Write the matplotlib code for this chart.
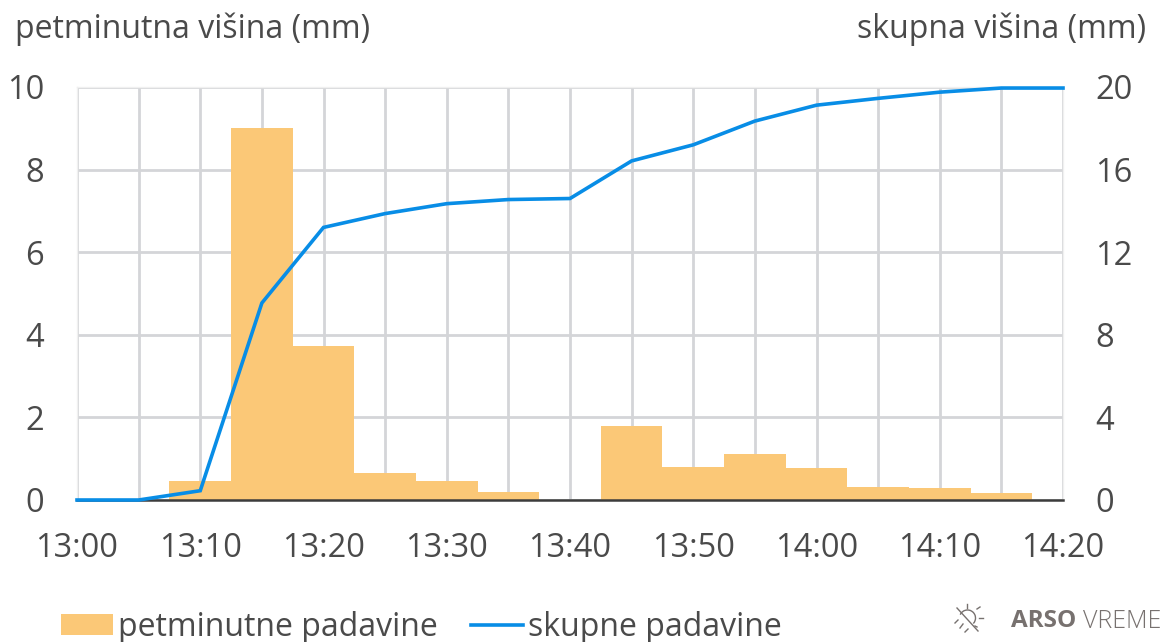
import matplotlib
matplotlib.use("Agg")
import matplotlib.pyplot as plt
from matplotlib.lines import Line2D
from matplotlib.patches import Arc

plt.rcParams['font.family'] = ['Open Sans', 'DejaVu Sans']

minutes = [0, 5, 10, 15, 20, 25, 30, 35, 40, 45, 50, 55, 60, 65, 70, 75, 80]
five_min = [0, 0, 0.47, 9.0, 3.72, 0.65, 0.47, 0.2, 0, 1.8, 0.8, 1.12, 0.78, 0.32, 0.28, 0.18, 0]
total = [0, 0, 0.45, 9.54, 13.2, 13.87, 14.35, 14.55, 14.6, 16.42, 17.2, 18.35, 19.12, 19.45, 19.75, 19.95, 19.95]
xticks = [0, 10, 20, 30, 40, 50, 60, 70, 80]
xlabels = ['13:00', '13:10', '13:20', '13:30', '13:40', '13:50', '14:00', '14:10', '14:20']
left_ticks = [0, 2, 4, 6, 8, 10]
right_ticks = [0, 4, 8, 12, 16, 20]

W, H = 1171, 642
TXT = '#4a4a4a'
GRID = '#d4d5d8'
fig = plt.figure(figsize=(W / 100, H / 100), dpi=100, facecolor='white')
ax = fig.add_axes([77 / W, 1 - 500 / H, (1063 - 77) / W, (500 - 87) / H])
ax.set_xlim(0, 80)
ax.set_ylim(0, 10)
ax.set_xticks(minutes)
ax.set_yticks(left_ticks)
ax.set_xticklabels([xlabels[xticks.index(m)] if m in xticks else '' for m in minutes])
ax.tick_params(axis='both', length=0, labelsize=23.5, labelcolor=TXT)
ax.tick_params(axis='x', pad=23)
ax.tick_params(axis='y', pad=23.8)
ax.grid(True, color=GRID, lw=2.0, zorder=1)
ax.set_axisbelow(True)
for s in ['top', 'right', 'left']:
    ax.spines[s].set_color('#f0f0f0')
    ax.spines[s].set_linewidth(1)
ax.spines['bottom'].set_color('#3c3c3c')
ax.spines['bottom'].set_linewidth(1.8)
bars = ax.bar(minutes, five_min, width=5, color='#fbc877', zorder=2, label='petminutne padavine')

ax2 = ax.twinx()
ax2.set_ylim(0, 20)
ax2.set_yticks(right_ticks)
ax2.tick_params(axis='y', length=0, labelsize=23.5, labelcolor=TXT, pad=23.3)
for lab in ax2.get_yticklabels():
    lab.set_ha('left')
for s in ax2.spines.values():
    s.set_visible(False)
line, = ax2.plot(minutes, total, color='#088de6', lw=2.6, zorder=5, clip_on=False,
                 solid_joinstyle='miter', label='skupne padavine')

fig.text(15 / W, 1 - 29 / H, 'petminutna višina (mm)', fontsize=23, color=TXT, ha='left', va='center')
fig.text(1146 / W, 1 - 29 / H, 'skupna višina (mm)', fontsize=23, color=TXT, ha='right', va='center')

fig.legend(handles=[bars, line], loc='lower left', bbox_to_anchor=(61 / W, -2 / H), ncol=2, frameon=False,
           fontsize=23, labelcolor=TXT, handlelength=1.63, handleheight=0.62, handletextpad=0.16,
           columnspacing=1.02, borderaxespad=0, borderpad=0)

fig.text(1011 / W, 1 - 621 / H, 'ARSO', fontsize=17.5, fontweight='bold', color='#77716f', ha='left', va='center')
fig.text(1083 / W, 1 - 621 / H, 'VREME', fontsize=18, color='#77716f', ha='left', va='center', fontweight='light')

def seg(x0, y0, x1, y1):
    fig.add_artist(Line2D([x0 / W, x1 / W], [1 - y0 / H, 1 - y1 / H], color='#77716f', lw=1.0))
seg(957, 608, 978, 631)
seg(967, 604, 967, 608)
seg(977, 609, 980, 607)
seg(979, 618, 983, 618)
seg(975, 626, 977, 627)
seg(955, 623, 958, 620)
seg(960, 628, 963, 624)
seg(965, 632, 968, 629)
fig.add_artist(Arc((967.5 / W, 1 - 618 / H), 16 / W, 16 / H, theta1=-60, theta2=140,
                   transform=fig.transFigure, color='#77716f', lw=1.0))

fig.savefig('out.png', dpi=100)
